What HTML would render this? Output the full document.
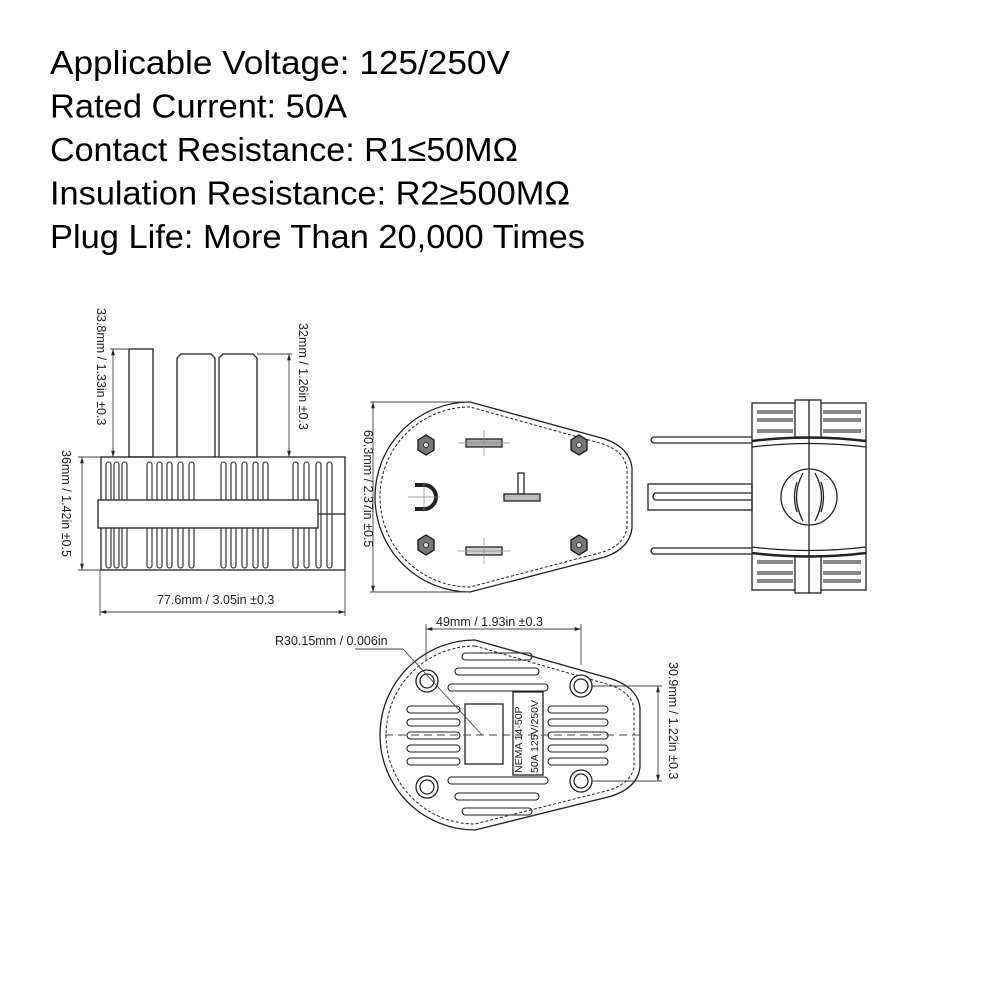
<!DOCTYPE html>
<html><head><meta charset="utf-8"><style>
html,body{margin:0;padding:0;background:#fff;}
svg{display:block;}
</style></head><body>
<svg width="1000" height="1000" viewBox="0 0 1000 1000" xmlns="http://www.w3.org/2000/svg" font-family="Liberation Sans, sans-serif">
<defs>
<marker id="ar" viewBox="0 0 10 10" refX="10" refY="5" markerWidth="7" markerHeight="7" orient="auto-start-reverse"><path d="M0,2 L10,5 L0,8 z" fill="#222"/></marker>
</defs>
<g fill="#000" font-size="33">
<text x="50" y="74" textLength="460" lengthAdjust="spacingAndGlyphs">Applicable Voltage: 125/250V</text>
<text x="50" y="117.5" textLength="297" lengthAdjust="spacingAndGlyphs">Rated Current: 50A</text>
<text x="50" y="161" textLength="468" lengthAdjust="spacingAndGlyphs">Contact Resistance: R1≤50MΩ</text>
<text x="50" y="204.5" textLength="520" lengthAdjust="spacingAndGlyphs">Insulation Resistance: R2≥500MΩ</text>
<text x="50" y="248" textLength="535" lengthAdjust="spacingAndGlyphs">Plug Life: More Than 20,000 Times</text>
</g>

<!-- LEFT VIEW -->
<g stroke="#222" fill="none" stroke-width="1.3">
<rect x="129" y="349" width="24" height="108"/>
<path d="M177,457 V358 L181,354 H211 L215,358 V457"/>
<path d="M219,457 V358 L223,354 H253 L257,358 V457"/>
<rect x="101" y="457" width="244" height="113"/>
<g stroke-width="1.1">
<rect x="106" y="462" width="5" height="106" rx="2.5"/><rect x="114" y="462" width="5" height="106" rx="2.5"/><rect x="122" y="462" width="5" height="106" rx="2.5"/>
<rect x="147" y="462" width="5" height="106" rx="2.5"/><rect x="157" y="462" width="5" height="106" rx="2.5"/><rect x="167" y="462" width="5" height="106" rx="2.5"/><rect x="178" y="462" width="5" height="106" rx="2.5"/><rect x="189" y="462" width="5" height="106" rx="2.5"/>
<rect x="221" y="462" width="5" height="106" rx="2.5"/><rect x="231" y="462" width="5" height="106" rx="2.5"/><rect x="242" y="462" width="5" height="106" rx="2.5"/><rect x="253" y="462" width="5" height="106" rx="2.5"/><rect x="263" y="462" width="5" height="106" rx="2.5"/>
<rect x="293" y="462" width="5" height="106" rx="2.5"/><rect x="304" y="462" width="5" height="106" rx="2.5"/><rect x="316" y="462" width="5" height="106" rx="2.5"/><rect x="327" y="462" width="5" height="106" rx="2.5"/>
</g>
<rect x="98" y="500" width="220" height="28" fill="#fff"/>
<line x1="318" y1="514" x2="345" y2="514"/>
</g>
<g stroke="#444" stroke-width="0.9" fill="none">
<line x1="113" y1="349" x2="113" y2="457" marker-start="url(#ar)" marker-end="url(#ar)"/>
<line x1="110" y1="349" x2="129" y2="349"/>
<line x1="289" y1="354" x2="289" y2="457" marker-start="url(#ar)" marker-end="url(#ar)"/>
<line x1="257" y1="354" x2="292" y2="354"/>
<line x1="82" y1="457" x2="82" y2="570" marker-start="url(#ar)" marker-end="url(#ar)"/>
<line x1="78" y1="457" x2="101" y2="457"/><line x1="78" y1="570" x2="101" y2="570"/>
<line x1="100" y1="612" x2="345" y2="612" marker-start="url(#ar)" marker-end="url(#ar)"/>
<line x1="100" y1="570" x2="100" y2="616"/><line x1="345" y1="570" x2="345" y2="616"/>
</g>
<g fill="#222" font-size="12.5">
<text transform="translate(97,308) rotate(90)">33.8mm / 1.33in ±0.3</text>
<text transform="translate(299,323) rotate(90)">32mm / 1.26in ±0.3</text>
<text transform="translate(62,450) rotate(90)">36mm / 1.42in ±0.5</text>
<text x="157" y="604">77.6mm / 3.05in ±0.3</text>
</g>

<!-- FRONT VIEW -->
<g stroke="#222" fill="none" stroke-width="1.3">
<path d="M470,402 A95,95 0 0 0 470,592 L605,557 Q630,548 632,528 L632,468 Q630,448 605,439 Z"/>
<path d="M470,407 A90,90 0 0 0 470,587 L603,552 Q626,544 627,526 L627,470 Q626,452 603,444 Z" stroke-dasharray="3,2" stroke-width="1"/>
<g fill="#777" stroke="#111">
<polygon points="418,440 426,435 434,440 434,450 426,455 418,450"/>
<polygon points="571,440 579,435 587,440 587,450 579,455 571,450"/>
<polygon points="418,540 426,535 434,540 434,550 426,555 418,550"/>
<polygon points="571,540 579,535 587,540 587,550 579,555 571,550"/>
</g>
<g fill="#ddd" stroke="#222" stroke-width="0.8">
<circle cx="426" cy="445" r="2.5"/><circle cx="579" cy="445" r="2.5"/><circle cx="426" cy="545" r="2.5"/><circle cx="579" cy="545" r="2.5"/>
</g>
<rect x="466" y="439" width="36" height="8" fill="#aaa"/>
<rect x="466" y="547" width="36" height="8" fill="#ccc"/>
<rect x="518" y="473" width="6" height="21"/>
<rect x="504" y="494" width="36" height="7" fill="#bbb"/>
<path d="M415,485 H424 A12,12 0 0 1 424,509 H415" stroke-width="4"/>
</g>
<g stroke="#888" stroke-width="0.7">
<line x1="484" y1="430" x2="484" y2="456"/><line x1="458" y1="443" x2="510" y2="443"/>
<line x1="484" y1="538" x2="484" y2="564"/><line x1="458" y1="551" x2="510" y2="551"/>
<line x1="408" y1="497" x2="440" y2="497"/><line x1="424" y1="482" x2="424" y2="512"/>
</g>
<g stroke="#444" stroke-width="0.9">
<line x1="373" y1="402" x2="373" y2="592" marker-start="url(#ar)" marker-end="url(#ar)"/>
<line x1="370" y1="402" x2="470" y2="402"/><line x1="370" y1="592" x2="470" y2="592"/>
</g>
<text transform="translate(364,430) rotate(90)" fill="#222" font-size="12.5">60.3mm / 2.37in ±0.5</text>

<!-- SIDE VIEW -->
<g stroke="#222" fill="none" stroke-width="1.3">
<path d="M752,437 H653 Q649,440 653,443 H752"/>
<path d="M752,548 H653 Q649,551 653,554 H752"/>
<rect x="648" y="484" width="104" height="26"/>
<path d="M752,493 H655 Q651,497 655,500 H752"/>
<rect x="752" y="403" width="114" height="187"/>
<path d="M752,447 Q809,440 866,447"/><path d="M752,547 Q809,554 866,547"/>
<rect x="795" y="400" width="26" height="38" fill="#fff"/>
<rect x="795" y="556" width="26" height="37" fill="#fff"/>
<line x1="809" y1="400" x2="809" y2="593"/>
<circle cx="809" cy="497" r="28" fill="#fff"/>
<path d="M803,473 Q790,497 803,521 M815,473 Q828,497 815,521"/>
<path d="M797,482 Q792,497 797,512 M821,482 Q826,497 821,512"/>
<line x1="809" y1="470" x2="809" y2="524"/>
</g>
<g fill="#888">
<rect x="757" y="410" width="36" height="4"/><rect x="757" y="418" width="36" height="4"/><rect x="823" y="410" width="38" height="4"/><rect x="823" y="418" width="38" height="4"/>
<rect x="757" y="429" width="36" height="4"/><rect x="823" y="429" width="38" height="4"/>
<rect x="757" y="560" width="36" height="4"/><rect x="823" y="560" width="38" height="4"/>
<rect x="757" y="571" width="36" height="4"/><rect x="757" y="579" width="36" height="4"/><rect x="823" y="571" width="38" height="4"/><rect x="823" y="579" width="38" height="4"/>
</g>
<path d="M752,441 Q809,434 866,441 M752,553 Q809,560 866,553" stroke="#222" stroke-width="2.5" fill="none"/>

<!-- BOTTOM VIEW -->
<g stroke="#222" fill="none" stroke-width="1.3">
<path d="M475,640 A95,95 0 0 0 475,830 L612,796 Q638,787 640,767 L640,708 Q638,688 612,679 Z"/>
<path d="M475,646 A89,89 0 0 0 475,824 L610,790 Q633,782 634,765 L634,710 Q633,693 610,685 Z" stroke-dasharray="3,2" stroke-width="1"/>
<g fill="#fff">
<circle cx="427" cy="681" r="11"/><circle cx="427" cy="681" r="7"/>
<circle cx="581" cy="686" r="11"/><circle cx="581" cy="686" r="7"/>
<circle cx="427" cy="787" r="11"/><circle cx="427" cy="787" r="7"/>
<circle cx="581" cy="781" r="11"/><circle cx="581" cy="781" r="7"/>
</g>
<g stroke-width="1.1">
<rect x="462" y="653" width="70" height="7" rx="3.5"/><rect x="455" y="668" width="84" height="7" rx="3.5"/><rect x="448" y="684" width="100" height="7" rx="3.5"/>
<rect x="448" y="777" width="100" height="7" rx="3.5"/><rect x="455" y="793" width="84" height="7" rx="3.5"/><rect x="462" y="808" width="70" height="7" rx="3.5"/>
<rect x="407" y="706" width="53" height="7" rx="3.5"/><rect x="407" y="719" width="53" height="7" rx="3.5"/><rect x="407" y="732" width="53" height="7" rx="3.5"/><rect x="407" y="745" width="53" height="7" rx="3.5"/><rect x="407" y="758" width="53" height="7" rx="3.5"/>
<rect x="548" y="706" width="60" height="7" rx="3.5"/><rect x="548" y="719" width="60" height="7" rx="3.5"/><rect x="548" y="732" width="60" height="7" rx="3.5"/><rect x="548" y="745" width="60" height="7" rx="3.5"/><rect x="548" y="758" width="60" height="7" rx="3.5"/>
</g>
<rect x="465" y="704" width="38" height="60"/>
<rect x="513" y="692" width="30" height="83"/>
</g>
<text transform="translate(522,773) rotate(-90)" fill="#222" font-size="10.5">NEMA 14-50P</text>
<text transform="translate(538,773) rotate(-90)" fill="#222" font-size="10.5">50A 125V/250V</text>
<g stroke="#444" stroke-width="0.9" fill="none">
<line x1="385" y1="735" x2="640" y2="735" stroke-dasharray="8,5"/>
<line x1="426" y1="629" x2="581" y2="629" marker-start="url(#ar)" marker-end="url(#ar)"/>
<line x1="426" y1="624" x2="426" y2="660"/><line x1="581" y1="624" x2="581" y2="665"/>
<line x1="658" y1="686" x2="658" y2="781" marker-start="url(#ar)" marker-end="url(#ar)"/>
<line x1="592" y1="686" x2="662" y2="686"/><line x1="592" y1="781" x2="662" y2="781"/>
<polyline points="355,649 403,649 482,735"/>
</g>
<g fill="#222" font-size="12.5">
<text x="436" y="626">49mm / 1.93in ±0.3</text>
<text x="275" y="645">R30.15mm / 0.006in</text>
<text transform="translate(669,662) rotate(90)">30.9mm / 1.22in ±0.3</text>
</g>
</svg>
</body></html>
